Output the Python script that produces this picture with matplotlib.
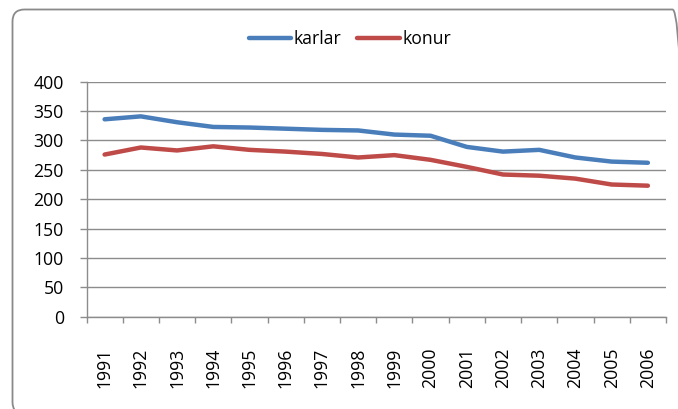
import matplotlib
matplotlib.use("Agg")
import matplotlib.pyplot as plt
from matplotlib.patches import FancyBboxPatch
from matplotlib.transforms import IdentityTransform

years = ["1991", "1992", "1993", "1994", "1995", "1996", "1997", "1998",
         "1999", "2000", "2001", "2002", "2003", "2004", "2005", "2006"]
karlar = [336, 341, 331, 323, 322, 320, 318, 317, 310, 308, 289, 281, 284, 271, 264, 262]
konur = [276, 288, 283, 290, 284, 281, 277, 271, 275, 267, 255, 242, 240, 235, 225, 223]
yticks = [0, 50, 100, 150, 200, 250, 300, 350, 400]

plt.rcParams['font.family'] = ['Open Sans', 'DejaVu Sans']
FS = 12.7

fig = plt.figure(figsize=(6.78, 4.09), dpi=100)
border = FancyBboxPatch((12.5, -5), 672, 404.5,
                        boxstyle="round,pad=0,rounding_size=12",
                        transform=IdentityTransform(), facecolor="none",
                        edgecolor="#8a8a8a", linewidth=1.3, zorder=-1)
fig.patches.append(border)

ax = fig.add_axes([86.5 / 678, 1 - 316.7 / 409, 579.5 / 678, (316.7 - 81.7) / 409])
ax.set_facecolor("none")
x = list(range(len(years)))
ax.plot(x, karlar, color="#4A7EBB", linewidth=3.2, label="karlar", solid_capstyle="round")
ax.plot(x, konur, color="#BE4B48", linewidth=3.2, label="konur", solid_capstyle="round")

ax.set_xlim(-0.5, len(years) - 0.5)
ax.set_ylim(0, 400)
ax.set_yticks(yticks)
ax.set_yticklabels([str(v) for v in yticks], fontsize=FS)
ax.yaxis.grid(True, color="#8c8c8c", linewidth=1.0)
ax.set_axisbelow(True)
ax.tick_params(axis="y", length=5.3, color="#8c8c8c", width=1.0, pad=11)

ax.set_xticks(x)
ax.set_xticklabels(years, rotation=90, fontsize=FS)
ax.set_xticks([i - 0.5 for i in range(len(years) + 1)], minor=True)
ax.tick_params(axis="x", which="major", length=0, pad=22)
ax.tick_params(axis="x", which="minor", length=4.5, color="#8c8c8c", width=1.0)

for s in ["top", "right"]:
    ax.spines[s].set_visible(False)
for s in ["left", "bottom"]:
    ax.spines[s].set_color("#8c8c8c")
    ax.spines[s].set_linewidth(1.0)

fig.legend(loc="center", bbox_to_anchor=(350 / 678, 1 - 39.5 / 409), ncol=2,
           frameon=False, fontsize=FS, handlelength=2.4, handletextpad=0.15,
           columnspacing=0.9)

fig.savefig("out.png", dpi=100)
